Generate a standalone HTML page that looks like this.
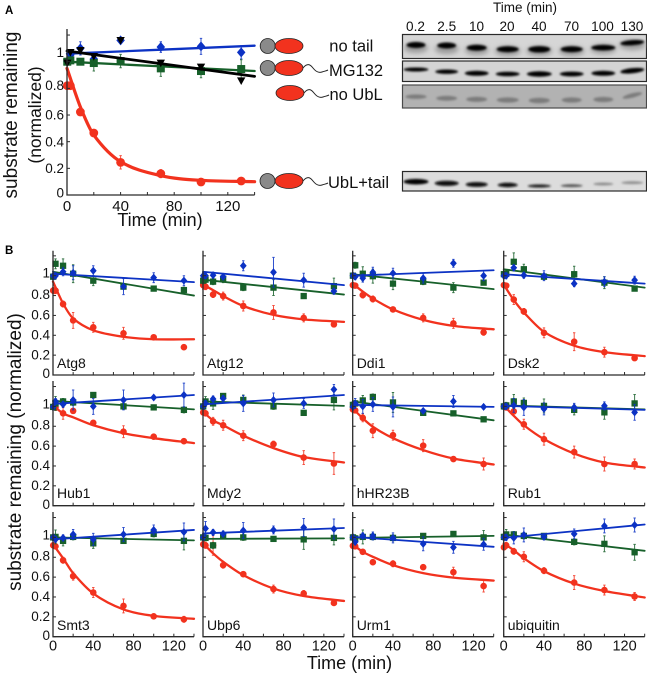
<!DOCTYPE html>
<html lang="en">
<head>
<meta charset="utf-8">
<title>Substrate remaining over time</title>
<style>
html,body{margin:0;padding:0;background:#fff}
svg{display:block;font-family:"Liberation Sans",Arial,sans-serif}
</style>
</head>
<body>
<svg id="figure" xmlns="http://www.w3.org/2000/svg" width="647" height="676" viewBox="0 0 647 676">
<defs>
<filter id="soft" x="-30%" y="-100%" width="160%" height="300%"><feGaussianBlur stdDeviation="1.1"/></filter>
<filter id="smear" x="-30%" y="-100%" width="160%" height="300%"><feGaussianBlur stdDeviation="2.4"/></filter>
</defs>
<rect width="647" height="676" fill="#fff"/>

<text x="5" y="14" font-size="11.5" font-weight="bold">A</text>
<text x="5" y="254" font-size="11.5" font-weight="bold">B</text>

<text transform="translate(17,115) rotate(-90)" text-anchor="middle" font-size="19" fill="#111">substrate remaining</text>
<text transform="translate(41,115) rotate(-90)" text-anchor="middle" font-size="17.5" fill="#111">(normalized)</text>
<text x="160" y="226" text-anchor="middle" font-size="18" fill="#111">Time (min)</text>
<text transform="translate(21,452) rotate(-90)" text-anchor="middle" font-size="19" fill="#111">substrate remaining (normalized)</text>
<text x="349.5" y="669" text-anchor="middle" font-size="18" fill="#111">Time (min)</text>

<g stroke="#222" stroke-width="0.8">
<circle cx="267.7" cy="46" r="7.5" fill="#8a8a8a"/>
<ellipse cx="289" cy="46" rx="14" ry="7.5" fill="#f2321e"/>
</g>
<g stroke="#222" stroke-width="0.8">
<circle cx="267.7" cy="68" r="7.5" fill="#8a8a8a"/>
<ellipse cx="289" cy="68" rx="14" ry="7.5" fill="#f2321e"/>
<path d="M303,68 C307,63 310,64 313,68 S319,73 322,72 S326,71 328,70" fill="none" stroke-width="1"/>
</g>
<g stroke="#222" stroke-width="0.8">
<ellipse cx="290" cy="93" rx="14" ry="7.5" fill="#f2321e"/>
<path d="M304,93 C308,88 311,89 314,93 S320,98 323,97 S327,96 329,95" fill="none" stroke-width="1"/>
</g>
<g stroke="#222" stroke-width="0.8">
<circle cx="267.5" cy="181" r="7.5" fill="#8a8a8a"/>
<ellipse cx="289" cy="181" rx="14" ry="7.5" fill="#f2321e"/>
<path d="M303,181 C307,176 310,177 313,181 S319,186 322,185 S326,184 328,183" fill="none" stroke-width="1"/>
</g>

<g font-size="16.5" fill="#111">
<text x="329.3" y="51.5">no tail</text>
<text x="329" y="76">MG132</text>
<text x="329.5" y="100">no UbL</text>
<text x="328" y="188">UbL+tail</text>
</g>

<text x="525" y="12" text-anchor="middle" font-size="13.5" fill="#111">Time (min)</text>
<g font-size="13.6" text-anchor="middle" fill="#111">
<text x="415.5" y="31">0.2</text>
<text x="446.7" y="31">2.5</text>
<text x="476.5" y="31">10</text>
<text x="507" y="31">20</text>
<text x="539" y="31">40</text>
<text x="571.5" y="31">70</text>
<text x="602.5" y="31">100</text>
<text x="632" y="31">130</text>
</g>

<g>
<rect x="402.5" y="34.5" width="244" height="24" fill="#d6d6d6" stroke="#2a2a2a" stroke-width="1.2"/>
<g filter="url(#smear)" fill="#9c9c9c">
<ellipse cx="416" cy="48" rx="12" ry="5"/>
<ellipse cx="446.7" cy="49" rx="12" ry="5"/>
<ellipse cx="476.7" cy="50" rx="12" ry="5"/>
<ellipse cx="507.7" cy="51" rx="13" ry="5"/>
<ellipse cx="539.3" cy="51" rx="13" ry="5"/>
<ellipse cx="571.7" cy="51" rx="13" ry="5"/>
<ellipse cx="603.3" cy="49" rx="13" ry="5"/>
<ellipse cx="632.3" cy="45" rx="13" ry="5"/>
</g>
<g filter="url(#soft)" fill="#050505">
<ellipse cx="416" cy="45" rx="9.5" ry="3"/>
<ellipse cx="446.7" cy="45.5" rx="9.5" ry="3"/>
<ellipse cx="476.7" cy="47.7" rx="10" ry="3"/>
<ellipse cx="507.7" cy="49.3" rx="11" ry="3"/>
<ellipse cx="539.3" cy="49.3" rx="11" ry="3.2"/>
<ellipse cx="571.7" cy="49.3" rx="11" ry="3"/>
<ellipse cx="603.3" cy="47.7" rx="12" ry="2.8"/>
<ellipse cx="632.3" cy="42.7" rx="12" ry="2.6" transform="rotate(-4 632.3 42.7)"/>
</g>
</g>

<g>
<rect x="402.5" y="61" width="244" height="20.5" fill="#d4d4d4" stroke="#2a2a2a" stroke-width="1.2"/>
<g filter="url(#soft)" fill="#050505">
<ellipse cx="416" cy="69.5" rx="12.5" ry="2"/>
<ellipse cx="446.7" cy="71.7" rx="11.5" ry="2.2"/>
<ellipse cx="476.7" cy="73.3" rx="12" ry="2.5"/>
<ellipse cx="507.7" cy="74" rx="12" ry="2.3"/>
<ellipse cx="539.3" cy="74" rx="12.5" ry="2.7"/>
<ellipse cx="571.7" cy="74" rx="12" ry="2.4"/>
<ellipse cx="603.3" cy="73.3" rx="12" ry="2.5"/>
<ellipse cx="632.3" cy="70.7" rx="12" ry="2.6" transform="rotate(-6 632.3 70.7)"/>
</g>
</g>

<g>
<rect x="402.5" y="85" width="244" height="23" fill="#b2b2b2" stroke="#4a4a4a" stroke-width="1.2"/>
<g filter="url(#soft)" fill="#7c7c7c">
<ellipse cx="416" cy="96.7" rx="10.5" ry="2.2"/>
<ellipse cx="446.7" cy="98.3" rx="10.5" ry="2.4"/>
<ellipse cx="476.7" cy="99.3" rx="10.5" ry="2.6"/>
<ellipse cx="507.7" cy="100" rx="11" ry="2.6"/>
<ellipse cx="539.3" cy="100.5" rx="10.5" ry="2.8"/>
<ellipse cx="571.7" cy="100" rx="10" ry="2.6"/>
<ellipse cx="603.3" cy="99.5" rx="10" ry="2.6"/>
<ellipse cx="632.3" cy="95.5" rx="10" ry="2.2" transform="rotate(-14 632.3 95.5)"/>
</g>
</g>

<g>
<rect x="402.5" y="171.5" width="244" height="19.5" fill="#dcdcdc" stroke="#2a2a2a" stroke-width="1.2"/>
<g filter="url(#soft)">
<ellipse cx="416" cy="181.7" rx="12.5" ry="2.8" fill="#030303"/>
<ellipse cx="446.7" cy="183.3" rx="12" ry="2.6" fill="#080808"/>
<ellipse cx="476.7" cy="184.5" rx="11" ry="2.4" fill="#0a0a0a"/>
<ellipse cx="507.7" cy="185" rx="10" ry="2.2" fill="#101010"/>
<ellipse cx="539.3" cy="186" rx="11.5" ry="1.6" fill="#222"/>
<ellipse cx="571.7" cy="185.7" rx="11" ry="1.4" fill="#555"/>
<ellipse cx="603.3" cy="184" rx="10" ry="1.4" fill="#8a8a8a"/>
<ellipse cx="632.3" cy="182.7" rx="11" ry="1.4" fill="#8e8e8e"/>
</g>
</g>

<g id="charts"></g>
</svg>

<script>
// Shared axes
const times = [0.2, 2.5, 10, 20, 40, 70, 100, 130];
const fitTimes = [0, 10, 20, 40, 70, 100, 140];
const lineTimes = [0, 140];
const xTicks = [0, 20, 40, 60, 80, 100, 120, 140];
const xTickLabels = [0, 40, 80, 120];
const yTicks = [0, 0.2, 0.4, 0.6, 0.8, 1, 1.2];
const yTickLabels = ['0', '0.2', '0.4', '0.6', '0.8', '1'];

// Panel A series
const aRedValues = [0.82, 0.82, 0.6225, 0.465, 0.245, 0.16, 0.0975, 0.105];
const aRedErrors = [0.02, 0.02, 0.02, 0.02, 0.05, 0.03, 0.01, 0.01];
const aRedFit = [0.95, 0.66, 0.45, 0.25, 0.145, 0.11, 0.1];
const aGreenValues = [1.0, 1.01, 1.0, 0.99, 1.005, 0.95, 0.93, 0.945];
const aGreenErrors = [0.02, 0.02, 0.02, 0.06, 0.05, 0.06, 0.05, 0.07];
const aGreenFit = [1.0, 0.93];
const aBlueValues = [1.0, 1.05, 1.1, 1.02, 1.16, 1.11, 1.115, 1.07];
const aBlueErrors = [0.02, 0.03, 0.05, 0.04, 0.02, 0.04, 0.06, 0.05];
const aBlueFit = [1.06, 1.12];
const aBlackValues = [0.99, 1.07, 1.085, 1.04, 1.16, 0.99, 0.96, 0.857];
const aBlackFit = [1.08, 0.89];

// Panel B series, one row per protein
const panelNames = ['Atg8', 'Atg12', 'Ddi1', 'Dsk2', 'Hub1', 'Mdy2', 'hHR23B', 'Rub1', 'Smt3', 'Ubp6', 'Urm1', 'ubiquitin'];
const redValues = [
  [0.85, 0.85, 0.715, 0.55, 0.48, 0.42, 0.38, 0.28],
  [0.905, 0.89, 0.81, 0.795, 0.695, 0.63, 0.575, 0.51],
  [0.905, 0.9, 0.805, 0.765, 0.66, 0.575, 0.52, 0.43],
  [0.905, 0.9, 0.76, 0.64, 0.425, 0.335, 0.23, 0.17],
  [0.995, 0.99, 0.93, 0.955, 0.835, 0.745, 0.695, 0.65],
  [0.94, 0.93, 0.85, 0.81, 0.705, 0.62, 0.485, 0.425],
  [0.97, 0.96, 0.885, 0.755, 0.71, 0.605, 0.47, 0.42],
  [1.0, 0.99, 0.95, 0.82, 0.67, 0.54, 0.42, 0.42],
  [0.92, 0.91, 0.77, 0.61, 0.445, 0.31, 0.205, 0.175],
  [0.93, 0.92, 0.92, 0.72, 0.63, 0.48, 0.435, 0.34],
  [0.915, 0.91, 0.855, 0.75, 0.735, 0.7, 0.65, 0.51],
  [0.9, 0.92, 0.86, 0.805, 0.665, 0.545, 0.47, 0.405]
];
const redErrors = [
  [0.03, 0.03, 0.03, 0.08, 0.05, 0.06, 0.02, 0.01],
  [0.04, 0.03, 0.03, 0.04, 0.05, 0.07, 0.04, 0.02],
  [0.02, 0.02, 0.03, 0.03, 0.02, 0.04, 0.05, 0.03],
  [0.02, 0.02, 0.05, 0.03, 0.05, 0.09, 0.05, 0.02],
  [0.02, 0.03, 0.06, 0.02, 0.02, 0.06, 0.02, 0.02],
  [0.02, 0.02, 0.04, 0.05, 0.05, 0.03, 0.07, 0.11],
  [0.02, 0.02, 0.04, 0.07, 0.05, 0.06, 0.02, 0.06],
  [0.02, 0.02, 0.02, 0.05, 0.06, 0.06, 0.07, 0.05],
  [0.02, 0.02, 0.03, 0.04, 0.05, 0.07, 0.02, 0.03],
  [0.03, 0.03, 0.1, 0.03, 0.02, 0.04, 0.03, 0.02],
  [0.02, 0.02, 0.02, 0.02, 0.03, 0.02, 0.05, 0.06],
  [0.02, 0.03, 0.03, 0.05, 0.03, 0.07, 0.05, 0.04]
];
const redFits = [
  [0.94, 0.72, 0.57, 0.45, 0.385, 0.36, 0.36],
  [0.91, 0.855, 0.795, 0.695, 0.605, 0.56, 0.535],
  [0.92, 0.84, 0.77, 0.66, 0.555, 0.495, 0.46],
  [0.91, 0.755, 0.63, 0.435, 0.295, 0.23, 0.19],
  [1.01, 0.93, 0.89, 0.81, 0.73, 0.68, 0.63],
  [0.945, 0.86, 0.81, 0.705, 0.58, 0.49, 0.435],
  [0.98, 0.88, 0.795, 0.68, 0.56, 0.475, 0.415],
  [1.01, 0.905, 0.81, 0.67, 0.525, 0.435, 0.385],
  [0.93, 0.79, 0.64, 0.435, 0.275, 0.21, 0.18],
  [0.94, 0.84, 0.755, 0.62, 0.485, 0.41, 0.36],
  [0.93, 0.855, 0.805, 0.72, 0.64, 0.595, 0.565],
  [0.94, 0.87, 0.79, 0.66, 0.535, 0.46, 0.395]
];
const greenValues = [
  [0.99, 1.12, 1.1, 1.02, 0.95, 0.89, 0.87, 0.855],
  [0.95, 0.96, 0.94, 0.97, 0.88, 0.88, 0.795, 0.895],
  [1.0, 1.105, 1.02, 0.995, 0.92, 0.94, 0.88, 0.93],
  [1.015, 1.02, 1.14, 1.065, 0.99, 1.015, 0.93, 0.87],
  [0.995, 1.03, 1.05, 1.04, 1.115, 1.0, 0.99, 0.965],
  [1.0, 1.05, 1.03, 1.105, 1.065, 1.0, 0.935, 1.065],
  [1.015, 1.03, 1.06, 1.095, 1.04, 0.935, 0.93, 0.87],
  [1.0, 1.01, 1.05, 1.035, 1.005, 0.965, 0.94, 1.03],
  [1.0, 1.005, 0.965, 1.005, 0.94, 0.965, 1.035, 0.965],
  [1.0, 0.995, 0.92, 1.02, 1.0, 0.985, 0.98, 0.995],
  [1.0, 0.99, 1.005, 1.005, 0.995, 1.015, 1.035, 1.0],
  [1.005, 1.03, 1.03, 1.015, 1.015, 0.955, 0.935, 0.85]
];
const greenErrors = [
  [0.03, 0.05, 0.07, 0.09, 0.05, 0.02, 0.02, 0.03],
  [0.03, 0.03, 0.03, 0.04, 0.03, 0.08, 0.01, 0.08],
  [0.02, 0.03, 0.07, 0.07, 0.06, 0.03, 0.05, 0.01],
  [0.03, 0.03, 0.09, 0.05, 0.03, 0.08, 0.06, 0.02],
  [0.03, 0.07, 0.03, 0.03, 0.02, 0.03, 0.02, 0.03],
  [0.03, 0.05, 0.06, 0.02, 0.05, 0.03, 0.02, 0.1],
  [0.03, 0.03, 0.05, 0.03, 0.1, 0.02, 0.02, 0.02],
  [0.03, 0.03, 0.07, 0.05, 0.07, 0.05, 0.07, 0.09],
  [0.03, 0.07, 0.05, 0.03, 0.05, 0.02, 0.03, 0.09],
  [0.03, 0.03, 0.03, 0.03, 0.03, 0.02, 0.1, 0.07],
  [0.03, 0.03, 0.07, 0.03, 0.03, 0.02, 0.02, 0.07],
  [0.03, 0.05, 0.03, 0.03, 0.02, 0.03, 0.08, 0.08]
];
const greenFits = [
  [1.04, 0.8], [0.96, 0.81], [1.015, 0.865], [1.065, 0.88],
  [1.055, 0.97], [1.05, 1.005], [1.05, 0.86], [1.01, 0.97],
  [1.0, 0.97], [0.985, 0.99], [0.995, 1.015], [1.03, 0.865]
];
const blueValues = [
  [1.0, 1.0, 1.04, 1.03, 1.05, 0.89, 0.98, 0.95],
  [1.0, 1.0, 1.005, 0.99, 1.1, 1.035, 0.955, 0.845],
  [1.0, 0.99, 0.975, 1.035, 1.025, 0.975, 1.125, 1.0],
  [1.0, 1.0, 1.08, 1.005, 1.0, 0.92, 0.94, 0.955],
  [0.995, 1.05, 1.02, 1.065, 1.0, 1.065, 1.09, 1.115],
  [1.0, 1.03, 1.075, 1.08, 1.03, 1.065, 1.03, 1.17],
  [0.995, 1.03, 1.0, 1.02, 0.995, 0.955, 1.05, 0.995],
  [1.0, 1.0, 1.01, 0.99, 0.975, 0.99, 1.005, 0.94],
  [1.0, 0.98, 0.995, 1.03, 0.98, 1.03, 1.075, 1.055],
  [1.0, 1.09, 1.05, 1.035, 1.07, 1.075, 1.1, 1.085],
  [1.0, 0.955, 1.015, 1.015, 0.995, 0.935, 0.9, 0.93],
  [1.0, 1.0, 0.995, 1.025, 1.005, 1.035, 1.115, 1.125]
];
const blueErrors = [
  [0.04, 0.03, 0.04, 0.07, 0.05, 0.08, 0.05, 0.05],
  [0.03, 0.03, 0.03, 0.03, 0.05, 0.15, 0.07, 0.03],
  [0.03, 0.03, 0.04, 0.05, 0.05, 0.05, 0.04, 0.05],
  [0.03, 0.03, 0.03, 0.03, 0.05, 0.03, 0.05, 0.04],
  [0.03, 0.03, 0.03, 0.1, 0.08, 0.1, 0.02, 0.12],
  [0.03, 0.03, 0.03, 0.03, 0.08, 0.07, 0.05, 0.05],
  [0.03, 0.05, 0.07, 0.07, 0.1, 0.02, 0.06, 0.02],
  [0.03, 0.03, 0.07, 0.08, 0.06, 0.04, 0.04, 0.08],
  [0.03, 0.03, 0.03, 0.05, 0.06, 0.07, 0.05, 0.09],
  [0.03, 0.07, 0.03, 0.03, 0.08, 0.04, 0.09, 0.1],
  [0.03, 0.03, 0.03, 0.04, 0.05, 0.07, 0.06, 0.06],
  [0.03, 0.03, 0.06, 0.07, 0.03, 0.05, 0.07, 0.07]
];
const blueFits = [
  [1.02, 0.935], [1.04, 0.905], [1.0, 1.055], [1.015, 0.92],
  [1.025, 1.115], [1.02, 1.115], [1.015, 0.995], [1.005, 0.965],
  [0.98, 1.075], [1.04, 1.095], [1.005, 0.905], [0.995, 1.13]
];

const NS = 'http://www.w3.org/2000/svg';
const COLORS = { red: '#f2321e', green: '#17602a', blue: '#0c32c4', black: '#000000' };
const root = document.getElementById('charts');

function make(parent, tag, attrs, text) {
  const el = document.createElementNS(NS, tag);
  for (const k in attrs) el.setAttribute(k, attrs[k]);
  if (text !== undefined) el.textContent = text;
  parent.appendChild(el);
  return el;
}

function curvePath(ts, vs, x, y) {
  const n = ts.length;
  const slope = [];
  for (let i = 0; i < n; i++) {
    const a = Math.max(i - 1, 0), b = Math.min(i + 1, n - 1);
    slope.push((vs[b] - vs[a]) / (ts[b] - ts[a]));
  }
  let d = 'M' + x(ts[0]) + ',' + y(vs[0]);
  for (let i = 0; i < n - 1; i++) {
    const h = (ts[i + 1] - ts[i]) / 3;
    d += 'C' + x(ts[i] + h) + ',' + y(vs[i] + slope[i] * h) + ' ' +
         x(ts[i + 1] - h) + ',' + y(vs[i + 1] - slope[i + 1] * h) + ' ' +
         x(ts[i + 1]) + ',' + y(vs[i + 1]);
  }
  return d;
}

function drawFit(g, ts, vs, color, width, x, y) {
  const p = make(g, 'path', { d: curvePath(ts, vs, x, y), fill: 'none', stroke: color, 'stroke-width': width, 'stroke-linecap': 'round' });
  
  
}

function drawErrors(g, values, errors, color, x, y) {
  values.forEach((v, i) => {
    const e = errors[i];
    const px = x(times[i]);
    const bar = make(g, 'path', {
      d: 'M' + px + ',' + y(v - e) + 'V' + y(v + e) +
         'M' + (px - 1.2) + ',' + y(v - e) + 'h2.4M' + (px - 1.2) + ',' + y(v + e) + 'h2.4',
      stroke: color, 'stroke-width': 1, fill: 'none', opacity: 0.85
    });
    
    
  });
}

function drawCircles(g, values, r, x, y) {
  values.forEach((v, i) => {
    const c = make(g, 'circle', { cx: x(times[i]), cy: y(v), r: r, fill: COLORS.red });
    
    
  });
}

function drawSquares(g, values, s, x, y) {
  values.forEach((v, i) => {
    const c = make(g, 'rect', { x: x(times[i]) - s / 2, y: y(v) - s / 2, width: s, height: s, fill: COLORS.green });
    
    
  });
}

function drawDiamonds(g, values, s, x, y) {
  values.forEach((v, i) => {
    const px = x(times[i]), py = y(v);
    const c = make(g, 'path', { d: 'M' + px + ',' + (py - s) + 'L' + (px + s * 0.85) + ',' + py + 'L' + px + ',' + (py + s) + 'L' + (px - s * 0.85) + ',' + py + 'Z', fill: COLORS.blue });
    
    
  });
}

function drawTriangles(g, values, s, x, y) {
  values.forEach((v, i) => {
    const px = x(times[i]), py = y(v);
    const c = make(g, 'path', { d: 'M' + (px - s) + ',' + (py - s * 0.8) + 'H' + (px + s) + 'L' + px + ',' + (py + s) + 'Z', fill: COLORS.black });
    
    
  });
}

function drawAxes(g, o, x, y) {
  const frame = make(g, 'path', {
    d: 'M' + o.x0 + ',' + o.top + 'V' + o.y0 + 'H' + x(140),
    fill: 'none', stroke: '#2a2a2a', 'stroke-width': 1.3
  });
  
  
  xTicks.forEach(t => {
    const tick = make(g, 'line', { x1: x(t), x2: x(t), y1: o.y0, y2: o.y0 - 3, stroke: '#2a2a2a', 'stroke-width': 1 });
    
    
  });
  yTicks.forEach(v => {
    const tick = make(g, 'line', { x1: o.x0, x2: o.x0 + 3, y1: y(v), y2: y(v), stroke: '#2a2a2a', 'stroke-width': 1 });
    
    
  });
  if (o.showXLabels) {
    xTickLabels.forEach(t => {
      const lab = make(g, 'text', { x: x(t), y: o.y0 + o.xLabelDrop, 'text-anchor': 'middle', 'font-size': o.xFont, fill: '#111' }, String(t));
      
      
    });
  }
  if (o.showYLabels) {
    yTickLabels.forEach((label, i) => {
      const lift = o.labelLift[i];
      const lab = make(g, 'text', { x: o.x0 - 3, y: y(yTicks[i]) - lift + 4.7, 'text-anchor': 'end', 'font-size': 13.5, fill: '#111' }, label);
      
      
    });
  }
}

// Panel A
(function () {
  const g = make(root, 'g', {});
  
  
  const o = { x0: 67, y0: 195, top: 29, showXLabels: true, showYLabels: true, xLabelDrop: 16, xFont: 15, labelLift: [2.3, 0, 0, 0, 3.3, 9.2] };
  const x = t => 67 + t * 1.34;
  const y = v => 195 - v * 133.3;
  drawErrors(g, aRedValues, aRedErrors, COLORS.red, x, y);
  drawFit(g, fitTimes, aRedFit, COLORS.red, 3.2, x, y);
  drawCircles(g, aRedValues, 4.4, x, y);
  drawErrors(g, aBlueValues, aBlueErrors, COLORS.blue, x, y);
  drawDiamonds(g, aBlueValues, 5, x, y);
  drawFit(g, lineTimes, aBlueFit, COLORS.blue, 2.3, x, y);
  drawErrors(g, aGreenValues, aGreenErrors, COLORS.green, x, y);
  drawFit(g, lineTimes, aGreenFit, COLORS.green, 2.3, x, y);
  drawSquares(g, aGreenValues, 8, x, y);
  drawFit(g, lineTimes, aBlackFit, COLORS.black, 2.8, x, y);
  drawTriangles(g, aBlackValues, 4.2, x, y);
  drawAxes(g, o, x, y);
})();

// Panel B
panelNames.forEach((name, idx) => {
  const col = idx % 4, row = Math.floor(idx / 4);
  const x0 = [53, 203, 352.7, 503.7][col];
  const y0 = [375, 505.7, 636.7][row];
  const top = [250.7, 381, 512][row];
  const g = make(root, 'g', {});
  
  
  const x = t => x0 + t * 1.007;
  const y = v => y0 - v * 99.3;
  const o = { x0: x0, y0: y0, top: top, showXLabels: row === 2, showYLabels: col === 0, xLabelDrop: 14, xFont: 14.5, labelLift: [1.5, 0.3, 0.5, 0.7, 1.5, 2.7] };
  drawErrors(g, redValues[idx], redErrors[idx], COLORS.red, x, y);
  drawFit(g, fitTimes, redFits[idx], COLORS.red, 2.3, x, y);
  drawCircles(g, redValues[idx], 3.3, x, y);
  drawErrors(g, greenValues[idx], greenErrors[idx], COLORS.green, x, y);
  drawFit(g, lineTimes, greenFits[idx], COLORS.green, 1.8, x, y);
  drawSquares(g, greenValues[idx], 6.3, x, y);
  drawErrors(g, blueValues[idx], blueErrors[idx], COLORS.blue, x, y);
  drawFit(g, lineTimes, blueFits[idx], COLORS.blue, 1.8, x, y);
  drawDiamonds(g, blueValues[idx], 4, x, y);
  drawAxes(g, o, x, y);
  const label = make(g, 'text', { x: x0 + 4, y: y0 - [7, 7.5, 6.5][row], 'font-size': 14, fill: '#111' }, name);
  
  
});
</script>
</body>
</html>
